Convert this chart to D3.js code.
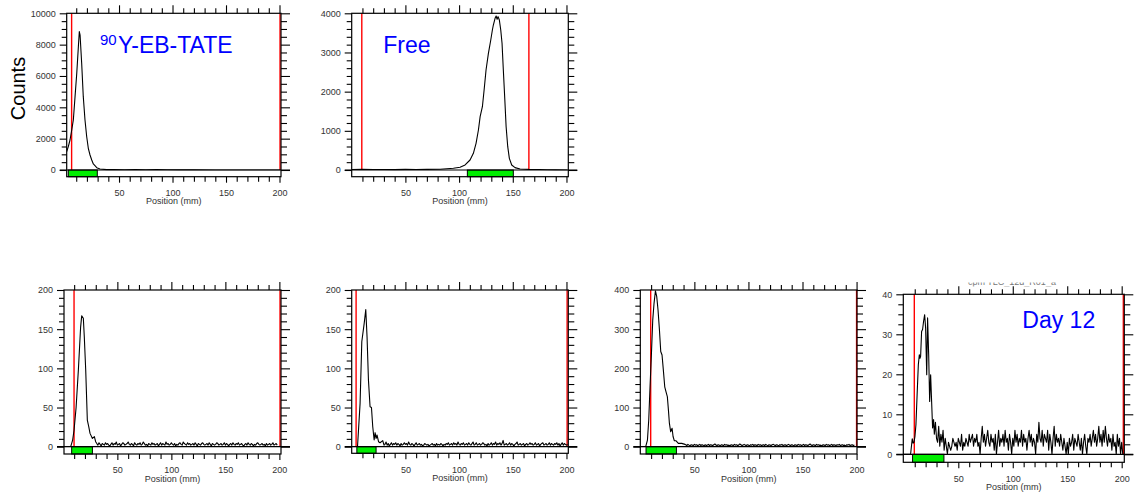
<!DOCTYPE html>
<html><head><meta charset="utf-8">
<script src="https://cdn.jsdelivr.net/npm/d3@7"></script>
<style>
body{margin:0;background:#fff;}
svg{display:block;font-family:"Liberation Sans",Arial,Helvetica,sans-serif;}
</style>
</head><body>
<svg id="chart" width="1140" height="502"></svg>
<script>
// ---------------- DATA ----------------
const yAxisTitle = "Counts";
const xAxisTitle = "Position (mm)";
const xTickLabels = [50, 100, 150, 200];
const panelLabels = ["Y-EB-TATE", "Free", "", "", "", "Day 12"];
const panelSuperscripts = ["90", "", "", "", "", ""];
const yMaxValues = [10000, 4000, 200, 200, 400, 40];
const yMajorSteps = [2000, 1000, 50, 50, 100, 10];
const yMinorSteps = [500, 200, 10, 10, 20, 2.5];

// region markers (mm)
const redLines = [[5.7, 200.5], [9.4, 165], [9.9, 200.6], [4.1, 200.6], [9.6, 200], [9.6, 201.5]];
const greenBars = [[2.6, 29.7], [107.7, 150.5], [7.7, 26.9], [4.8, 22.7], [5.3, 33.4], [8, 36.8]];

// panel 1: 90Y-EB-TATE  [mm, counts]
const p1Points = [[1.1,1170],[2.6,1490],[4.2,1914],[5.8,2553],[7.3,3190],[8.9,4680],[10.5,6170],[12,7870],[12.9,8830],[13.6,8615],[15.1,6810],[16.6,4680],[18.2,3190],[19.8,2125],[21.3,1385],[22.9,957],[24.5,638],[26,383],[29.2,150],[32.2,64],[38.5,25],[45,30],[55,20],[65,25],[75,18],[85,22],[95,12],[105,8],[120,5],[140,3],[160,2],[180,2],[201,1]];
// panel 2: Free
const p2Points = [[0,12],[10,15],[20,12],[30,14],[40,10],[50,15],[60,12],[70,16],[82.3,18],[94.7,43],[100.9,69],[105.6,128],[110.2,255],[113.3,426],[115.8,681],[118,1021],[119.6,1361],[121.7,1616],[123.3,2042],[125.1,2553],[127.3,2979],[129.5,3318],[131,3574],[131.9,3701],[133.5,3872],[134.5,3931],[135.4,3847],[136.3,3914],[137.5,3829],[138.8,3574],[140,3234],[141.2,2553],[142.6,1787],[143.8,1105],[145.3,595],[146.8,298],[149,128],[152.1,60],[156.8,26],[165,15],[175,12],[182,8],[190,3],[201,1]];
// panel 3
const p3Points = [[0.6,0],[6.8,0],[8.6,8.5],[9.9,21],[11.8,50],[13.9,98],[16,153],[17,167],[18.5,164],[19.4,140],[20.7,98],[22.2,34],[23.5,25.5],[24.7,17],[26.9,10.6],[28.7,12.8],[29.9,6.4]];
const p3NoiseStart = 31;
const p3Noise = [4,2,5,3,1,4,3,2,5,3,4,2,1,3,5,2,4,3,6,2,3,4,1,3,5,4,2,3,4,6,3,2,4,3,1,5,3,2,4,3,5,2,3,6,4,2,3,1,4,3,2,5,3,4,2,3,4,1,3,5,2,4,3,2,6,3,4,2,3,5,3,2,4,1,3,2,4,5,3,2,6,4,3,2,5,3,4,2,3,4,2,5,3,1,4,3,2,4,5,3,2,3,4,2,5,3,1,4,3,2,3,5,4,2,3,4,2,3,5,2,4,3,1,3,4,2,5,3,2,4,3,5,2,3,4,2,1,3,4,2,5,3,2,4,3,1,3,2,4,5,3,2,3,4,2,3,1,4,2,3,4,2,3,5,2,3,4,2];
// panel 4
const p4Points = [[0,0],[5.4,0],[7.8,55],[9.4,134],[11.6,157],[13.1,175],[14.3,140],[15.6,85],[17.1,51],[18.4,50],[19.6,25.5],[20.9,8.5],[21.8,17.9],[22.7,10.6],[23.6,14.9],[25,6.4],[26.4,5.1],[28.9,7.7],[30.1,2]];
const p4NoiseStart = 31;
const p4Noise = [3,6,2,4,1,3,5,2,4,3,5,2,4,3,1,4,2,3,5,3,4,2,6,3,2,4,3,1,3,5,2,3,4,2,3,1,2,4,3,2,3,1,2,3,4,2,3,1,4,2,3,2,4,3,1,3,2,4,3,5,2,3,4,2,5,3,4,2,6,3,2,4,3,5,2,3,4,2,5,3,2,4,6,2,3,5,2,3,4,2,3,5,4,2,3,1,4,2,3,5,2,4,3,6,2,4,3,5,2,4,8,2,3,4,2,3,5,2,4,3,1,3,4,6,2,3,4,2,3,4,1,3,4,2,3,5,3,4,2,3,5,2,3,4,1,3,4,5,2,3,4,2,3,5,2,4,3,2,4,3,5,2,4,1,3,5,2,4,3,2,3];
// panel 5
const p5Points = [[0,0],[5,0],[6.6,17],[7.8,68],[9,153],[10.3,238],[11.5,323],[12.7,366],[14,398],[15.2,383],[16.4,349],[17.7,298],[18.9,243],[20.1,234],[21.3,196],[22.6,153],[23.8,140],[25,128],[26,94],[26.9,60],[28.1,38],[29.4,47],[30.3,26],[31.5,15],[33.1,15],[35.2,8.5],[38.3,8.5],[41.4,6]];
const p5NoiseStart = 42;
const p5Noise = [5,3,6,4,2,5,4,3,6,4,5,3,4,6,3,5,4,2,5,3,4,6,3,5,4,3,5,7,4,3,5,4,2,5,4,3,6,4,5,3,4,2,5,4,3,6,4,5,3,4,7,5,3,4,6,4,3,5,4,2,5,4,6,3,5,4,3,6,4,5,3,4,5,3,6,4,2,5,4,3,5,6,4,3,5,4,2,5,4,6,3,4,5,3,4,6,4,3,5,4,2,5,4,3,6,4,5,3,4,6,3,5,4,3,5,7,4,3,5,4,3,6,4,5,3,4,2,5,4,3,6,4,5,3,4,6,3,5,4,3,5,4,6,3,4,5,3,4,2,5,4,6,3,4,5,3,4];
// panel 6: Day 12
const p6Points = [[-0.5,0],[6.2,0],[7.7,3.9],[8.5,2.8],[9.3,3],[10.2,4.5],[11.1,7.4],[12.2,15],[13.3,22.4],[14.2,24.9],[14.8,24],[15.4,24.5],[16.3,30.7],[17.2,31.2],[18.1,33.2],[19.1,34.9],[20,31.6],[21,19.9],[21.8,34.1],[22.8,24.9],[23.7,13.2],[24.6,19.9],[25.5,13.2],[26.4,6.6],[27.3,8.7]];
const p6NoiseStart = 28;
const p6Noise = [5,8,4,3,7,2,5,3,6,1,4,2,0,3,2,1,2,4,3,2,3,1,4,3,2,5,1,3,2,4,3,2,5,3,4,5,2,4,3,5,2,3,0,4,7,3,5,2,4,6,3,2,5,3,4,1,5,0,3,6,2,4,3,5,2,6,3,4,1,5,3,0,4,2,6,3,5,2,4,3,6,2,5,3,4,1,4,6,3,5,2,4,3,0,5,3,8,4,3,6,2,5,4,3,6,1,5,3,0,4,7,2,5,3,4,2,5,3,1,4,2,0,3,0,4,2,3,5,1,4,3,2,5,3,1,4,0,3,5,2,0,4,3,5,2,4,6,3,5,2,4,7,3,5,2,6,3,7,4,2,5,3,4,1,5,2,3,0,5,2,4,0,3,0];

// ---------------- LAYOUT ----------------
const boxes = [
  {l:66.7, r:281,   t:13.3,  z:170,   b:176.7, xd:[1.1,201.4]},
  {l:351.7,r:568.3, t:13.3,  z:170,   b:176.7, xd:[0,201.7]},
  {l:64,   r:281,   t:290,   z:446.7, b:454,   xd:[0.6,201.5]},
  {l:351.7,r:568.3, t:290,   z:446.7, b:453.3, xd:[0,201.7]},
  {l:640.3,r:857,   t:290,   z:446.7, b:454,   xd:[0,200.4]},
  {l:903.3,r:1124.3,t:294.3, z:454.3, b:462.3, xd:[-0.5,202.4]}
];
const allPoints = [p1Points, p2Points, p3Points, p4Points, p5Points, p6Points];
const noises = [null, null, [p3NoiseStart,p3Noise], [p4NoiseStart,p4Noise], [p5NoiseStart,p5Noise], [p6NoiseStart,p6Noise]];

const svg = d3.select("#chart");
const tickColor = "#333";

boxes.forEach((B, i) => {
  const x = d3.scaleLinear().domain(B.xd).range([B.l, B.r]);
  const y = d3.scaleLinear().domain([0, yMaxValues[i]]).range([B.z, B.t]);
  const g = svg.append("g");

  // series
  let pts = allPoints[i].slice();
  if (noises[i]) {
    const [s, arr] = noises[i];
    arr.forEach((v, k) => pts.push([s + k, v]));
  }
  pts = pts.filter(p => p[0] >= B.xd[0] && p[0] <= B.xd[1]);

  const clipId = "clip" + i;
  svg.append("clipPath").attr("id", clipId).append("rect")
    .attr("x", B.l).attr("y", B.t - 1).attr("width", B.r - B.l).attr("height", B.z - B.t + 1.5);

  // red region lines
  g.selectAll(".red").data(redLines[i]).enter().append("line")
    .attr("x1", d => x(d)).attr("x2", d => x(d)).attr("y1", B.t).attr("y2", B.z)
    .attr("stroke", "#ff0000").attr("stroke-width", 1.4);

  g.append("path").datum(pts)
    .attr("clip-path", `url(#${clipId})`)
    .attr("fill", "none").attr("stroke", "#000").attr("stroke-width", 1.1)
    .attr("stroke-linejoin", "round")
    .attr("d", d3.line().x(d => x(d[0])).y(d => y(d[1])));

  // green bar
  const gb = greenBars[i];
  g.append("rect").attr("x", x(gb[0])).attr("y", B.z).attr("width", x(gb[1]) - x(gb[0])).attr("height", B.b - B.z)
    .attr("fill", "#00ee00").attr("stroke", "#000").attr("stroke-width", 1);

  // frame
  g.append("rect").attr("x", B.l).attr("y", B.t).attr("width", B.r - B.l).attr("height", B.b - B.t)
    .attr("fill", "none").attr("stroke", "#000").attr("stroke-width", 1.2);
  g.append("line").attr("x1", B.l - 7).attr("x2", B.r + 9).attr("y1", B.z).attr("y2", B.z)
    .attr("stroke", "#000").attr("stroke-width", 1.2);

  const ymax = yMaxValues[i];
  const majors = d3.range(0, ymax + 1e-9, yMajorSteps[i]);
  const minors = d3.range(0, ymax + 1e-9, yMinorSteps[i]).filter(v => !majors.some(m => Math.abs(m - v) < 1e-9));
  const xMinor = d3.range(10, 201, 10).filter(v => v % 50 !== 0 && v >= B.xd[0] && v <= B.xd[1]);
  const xMajor = xTickLabels.filter(v => v <= B.xd[1]);

  const styleAxis = (sel) => {
    sel.select(".domain").remove();
    sel.selectAll("line").attr("stroke", "#000").attr("stroke-width", 1.1);
    sel.selectAll("text").attr("fill", tickColor).style("font-size", "9px")
      .style("font-family", '"Liberation Sans",Arial,sans-serif');
  };
  // left
  g.append("g").attr("transform", `translate(${B.l},0)`)
    .call(d3.axisLeft(y).tickValues(majors).tickSize(7).tickPadding(4).tickFormat(d3.format("d"))).call(styleAxis);
  g.append("g").attr("transform", `translate(${B.l},0)`)
    .call(d3.axisLeft(y).tickValues(minors).tickSize(5).tickFormat("")).call(styleAxis);
  // right
  g.append("g").attr("transform", `translate(${B.r},0)`)
    .call(d3.axisRight(y).tickValues(majors).tickSize(9).tickFormat("")).call(styleAxis);
  g.append("g").attr("transform", `translate(${B.r},0)`)
    .call(d3.axisRight(y).tickValues(minors).tickSize(6).tickFormat("")).call(styleAxis);
  // top
  g.append("g").attr("transform", `translate(0,${B.t})`)
    .call(d3.axisTop(x).tickValues(xMajor).tickSize(8).tickFormat("")).call(styleAxis);
  g.append("g").attr("transform", `translate(0,${B.t})`)
    .call(d3.axisTop(x).tickValues(xMinor).tickSize(5).tickFormat("")).call(styleAxis);
  // bottom
  g.append("g").attr("transform", `translate(0,${B.b})`)
    .call(d3.axisBottom(x).tickValues(xMajor).tickSize(6).tickPadding(7).tickFormat(d3.format("d"))).call(styleAxis);
  g.append("g").attr("transform", `translate(0,${B.b})`)
    .call(d3.axisBottom(x).tickValues(xMinor).tickSize(5).tickFormat("")).call(styleAxis);

  // x title
  g.append("text").attr("x", (B.l + B.r) / 2).attr("y", B.b + 27.5)
    .attr("text-anchor", "middle").attr("fill", tickColor).style("font-size", "9px").text(xAxisTitle);
});

// panel labels
const labelPos = [[118, 53.3], [383.3, 52.7], null, null, null, [1022.3, 327.7]];
panelLabels.forEach((t, i) => {
  if (!t) return;
  const [lx, ly] = labelPos[i];
  svg.append("text").attr("x", lx).attr("y", ly).attr("fill", "#0000ff").style("font-size", "23px").text(t);
  if (panelSuperscripts[i]) {
    svg.append("text").attr("x", lx - 18).attr("y", ly - 8.5).attr("fill", "#0000ff").style("font-size", "15px").text(panelSuperscripts[i]);
  }
});

// y title
svg.append("text").attr("transform", "translate(25,88.5) rotate(-90)")
  .attr("text-anchor", "middle").attr("fill", "#000").style("font-size", "20px").text(yAxisTitle);

// clipped faint header above last panel
svg.append("clipPath").attr("id", "hdrclip").append("rect").attr("x", 960).attr("y", 282.5).attr("width", 140).attr("height", 4);
svg.append("text").attr("clip-path", "url(#hdrclip)").attr("x", 968).attr("y", 285)
  .attr("fill", "#777").style("font-size", "9px").text("cpm    TLC_12d_R01_a");
</script>
</body></html>
